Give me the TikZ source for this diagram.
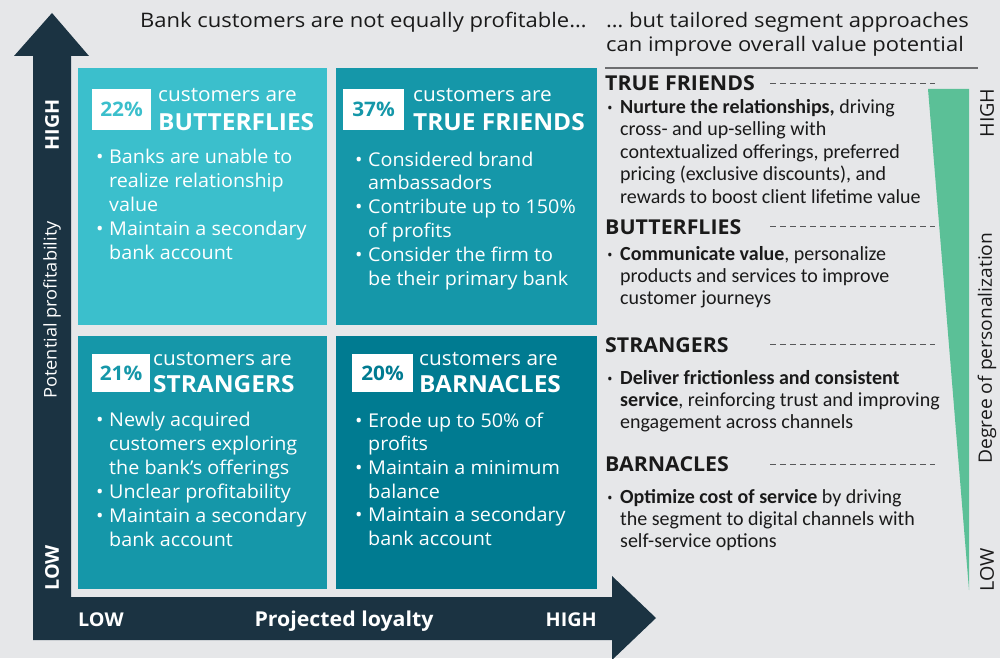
\documentclass[tikz,border=0pt]{standalone}
\usepackage{fontspec}
\setmainfont[FakeStretch=1.04]{Open Sans}
\newfontfamily\headfont[FakeStretch=1.1]{Open Sans}
\newfontfamily\narrowfont{Carlito}
\newfontfamily\dotfont{Open Sans}
\definecolor{bgc}{HTML}{E6E7E9}
\definecolor{navy}{HTML}{1B3342}
\definecolor{qa}{HTML}{3BBFCC}
\definecolor{qb}{HTML}{1597A9}
\definecolor{qd}{HTML}{007B91}
\definecolor{grn}{HTML}{5BC097}
\definecolor{ink}{HTML}{1A1A1A}
\definecolor{rulec}{HTML}{6D6E70}
\newcommand{\qbul}{\makebox[13pt][l]{•}}
\newcommand{\qind}{\hspace*{13pt}}
\newcommand{\rbul}{\makebox[14pt][l]{\hspace*{1pt}{\dotfont\fontsize{15}{15}\selectfont\mdseries•}}}
\newcommand{\rind}{\hspace*{14pt}}
\begin{document}
\begin{tikzpicture}[x=1pt,y=-1pt,
  quad/.style={anchor=north west, inner sep=0pt, minimum width=#1},
  pct/.style={fill=white, inner sep=0pt, minimum height=#1, font=\bfseries\fontsize{20}{24}\selectfont},
  cust/.style={anchor=base west, inner sep=0pt, text=white, font=\fontsize{20}{24}\selectfont},
  seg/.style={anchor=base west, inner sep=0pt, text=white, font=\bfseries\fontsize{23.5}{28}\selectfont},
  qtext/.style={anchor=base west, inner sep=0pt, align=left, text=white, font=\fontsize{19}{24}\selectfont},
  rhead/.style={anchor=base west, inner sep=0pt, text=ink, font=\bfseries\fontsize{20.5}{24}\selectfont},
  rtext/.style={anchor=base west, inner sep=0pt, align=left, text=ink, font=\narrowfont\fontsize{20}{22.5}\selectfont},
  dashline/.style={draw=rulec!80!black, line width=0.9pt, dash pattern=on 6pt off 4pt},
  axw/.style={inner sep=0pt, text=white, rotate=90, font=\fontsize{19}{24}\selectfont},
  axk/.style={inner sep=0pt, text=ink, rotate=90, font=\fontsize{18.5}{24}\selectfont},
  axb/.style={anchor=base west, inner sep=0pt, text=white, font=\bfseries\fontsize{19}{24}\selectfont}
]
\useasboundingbox (0,0) rectangle (1000,658);
\fill[bgc] (0,0) rectangle (1000,658);

% axes arrows
\fill[navy] (33,640) -- (33,56) -- (14,56) -- (52,13) -- (89,56) -- (71,56) -- (71,597)
  -- (612,597) -- (612,576) -- (656,618) -- (612,660) -- (612,640) -- cycle;

% quadrants
\node[quad=249pt, minimum height=257pt, fill=qa] (q1) at (78,68) {};
\node[quad=261pt, minimum height=257pt, fill=qb] (q2) at (336,68) {};
\node[quad=249pt, minimum height=253pt, fill=qb] (q3) at (78,336) {};
\node[quad=261pt, minimum height=253pt, fill=qd] (q4) at (336,336) {};

% percentage boxes
\node[pct=41pt, minimum width=59pt, text=qa] (p1) at (121.5,109.5) {22\%};
\node[pct=41pt, minimum width=61pt, text=qb] (p2) at (373.5,109.5) {37\%};
\node[pct=38pt, minimum width=58pt, text=qb] (p3) at (121,373) {21\%};
\node[pct=38pt, minimum width=61pt, text=qd] (p4) at (382.5,373) {20\%};

\node[cust] (c1) at (158,102) {customers are};
\node[seg] (s1) at (158,130) {BUTTERFLIES};
\node[cust] (c2) at (413,102) {customers are};
\node[seg] (s2) at (413,130) {TRUE FRIENDS};
\node[cust] (c3) at (153,365) {customers are};
\node[seg] (s3) at (153,392) {STRANGERS};
\node[cust] (c4) at (419,365) {customers are};
\node[seg] (s4) at (419,392) {BARNACLES};

% multi-line nodes: base anchor = baseline of last line
\node[qtext] (t1) at (96,259) {\qbul Banks are unable to\\\qind realize relationship\\\qind value\\\qbul Maintain a secondary\\\qind bank account};
\node[qtext, font=\fontsize{19}{23.8}\selectfont] (t2) at (355,285) {\qbul Considered brand\\\qind ambassadors\\\qbul Contribute up to 150\%\\\qind of profits\\\qbul Consider the firm to\\\qind be their primary bank};
\node[qtext] (t3) at (96,546.5) {\qbul Newly acquired\\\qind customers exploring\\\qind the bank’s offerings\\\qbul Unclear profitability\\\qbul Maintain a secondary\\\qind bank account};
\node[qtext, font=\fontsize{19}{23.7}\selectfont] (t4) at (355,545.5) {\qbul Erode up to 50\% of\\\qind profits\\\qbul Maintain a minimum\\\qind balance\\\qbul Maintain a secondary\\\qind bank account};

% axis labels
\node[axw, font=\bfseries\fontsize{19}{24}\selectfont] (yh) at (52,125) {HIGH};
\node[axw, font=\fontsize{17.5}{24}\selectfont] (yl) at (52,310) {Potential profitability};
\node[axw, font=\bfseries\fontsize{19}{24}\selectfont] (ylo) at (52,568) {LOW};
\node[axb] (xl) at (78,626) {LOW};
\node[axb, anchor=base, font=\bfseries\fontsize{20.5}{24}\selectfont] (xm) at (344,626) {Projected loyalty};
\node[axb, anchor=base east] (xh) at (597,626) {HIGH};

% header
\node[anchor=base west, inner sep=0pt, text=ink, font=\headfont\fontsize{20}{24}\selectfont] (hl) at (140,28) {Bank customers are not equally profitable…};
\node[anchor=base west, inner sep=0pt, align=left, text=ink, font=\headfont\fontsize{20}{24}\selectfont] (hr) at (606,52) {… but tailored segment approaches\\can improve overall value potential};
\draw[rulec, line width=1.2pt] (605,68) -- (978,68);

% right panel
\fill[grn] (928,89) -- (969,89) -- (969,590) -- cycle;
\node[rhead] (h1) at (605,91) {TRUE FRIENDS};
\draw[dashline] (770,83) -- (935,83);
\node[rtext] (r1) at (606,203) {\rbul\textbf{Nurture the relationships,} driving\\\rind cross- and up-selling with\\\rind contextualized offerings, preferred\\\rind pricing (exclusive discounts), and\\\rind rewards to boost client lifetime value};
\node[rhead] (h2) at (605,234) {BUTTERFLIES};
\draw[dashline] (770,226) -- (935,226);
\node[rtext, font=\narrowfont\fontsize{20}{22}\selectfont] (r2) at (606,304) {\rbul\textbf{Communicate value}, personalize\\\rind products and services to improve\\\rind customer journeys};
\node[rhead] (h3) at (605,352) {STRANGERS};
\draw[dashline] (770,344) -- (935,344);
\node[rtext, font=\narrowfont\fontsize{20}{22}\selectfont] (r3) at (606,428) {\rbul\textbf{Deliver frictionless and consistent}\\\rind\textbf{service}, reinforcing trust and improving\\\rind engagement across channels};
\node[rhead] (h4) at (605,471) {BARNACLES};
\draw[dashline] (770,464) -- (935,464);
\node[rtext, font=\narrowfont\fontsize{20}{22}\selectfont] (r4) at (606,547) {\rbul\textbf{Optimize cost of service} by driving\\\rind the segment to digital channels with\\\rind self-service options};

\node[axk, font=\fontsize{19}{24}\selectfont] (zh) at (987,113) {HIGH};
\node[axk] (zm) at (987,348) {Degree of personalization};
\node[axk, font=\fontsize{19}{24}\selectfont] (zl) at (987,570) {LOW};
\end{tikzpicture}
\end{document}
